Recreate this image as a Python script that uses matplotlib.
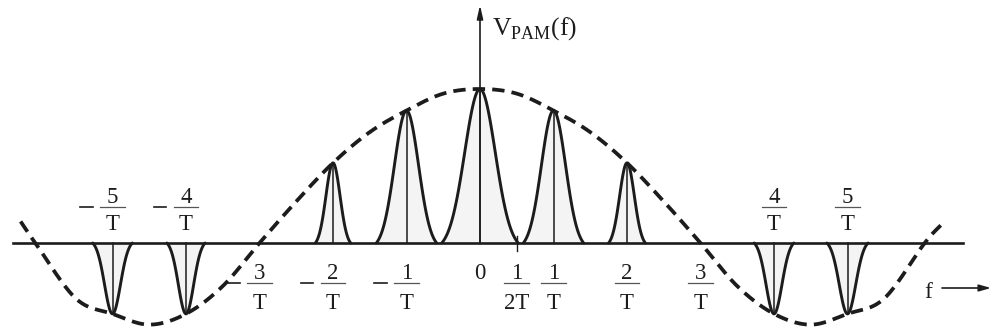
import matplotlib

matplotlib.use("Agg")
import matplotlib.pyplot as plt
import numpy as np

# dashed envelope, sampled in units of 1/T (value relative to the DC peak)
ENV_F = [-6.25, -6.05, -5.5, -5.0, -4.5, -4.0, -3.5, -3.0, -2.5, -2.0, -1.5, -1.0, -0.5,
         0.0, 0.5, 1.0, 1.5, 2.0, 2.5, 3.0, 3.5, 4.0, 4.5, 5.0, 5.5, 6.05, 6.3]
ENV_V = [0.14, 0.0, -0.36, -0.46, -0.53, -0.46, -0.28, 0.0, 0.27, 0.52, 0.72, 0.86, 0.97,
         1.0, 0.97, 0.86, 0.72, 0.52, 0.27, 0.0, -0.28, -0.46, -0.53, -0.46, -0.36, 0.0, 0.13]

# spectral lines at k/T: peak value and half-width of each bell
PULSE_K = [-5, -4, -2, -1, 0, 1, 2, 4, 5]
PULSE_H = [-0.46, -0.46, 0.52, 0.86, 1.0, 0.86, 0.52, -0.46, -0.46]
PULSE_W = [0.27, 0.26, 0.24, 0.41, 0.52, 0.41, 0.25, 0.27, 0.28]

# fraction labels: (position, numerator, denominator)
LABELS_BELOW = [(-3, "3", "T"), (-2, "2", "T"), (-1, "1", "T"),
                (0.5, "1", "2T"), (1, "1", "T"), (2, "2", "T"), (3, "3", "T")]
LABELS_ABOVE = [(-5, "5", "T"), (-4, "4", "T"), (4, "4", "T"), (5, "5", "T")]

INK = "#1c1c1c"
FONT = "Liberation Serif"
PX_X = 1 / 73.5   # data units per pixel
PX_Y = 1 / 154.0
LABEL_SIZE = 16.5


def catmull_rom(xs, ys, n=24):
    pts = np.column_stack([xs, ys]).astype(float)
    pts = np.vstack([2 * pts[0] - pts[1], pts, 2 * pts[-1] - pts[-2]])
    t = np.linspace(0, 1, n, endpoint=False)[:, None]
    seg = []
    for i in range(1, len(pts) - 2):
        p0, p1, p2, p3 = pts[i - 1:i + 3]
        seg.append(0.5 * (2 * p1 + (-p0 + p2) * t
                          + (2 * p0 - 5 * p1 + 4 * p2 - p3) * t ** 2
                          + (-p0 + 3 * p1 - 3 * p2 + p3) * t ** 3))
    seg.append(pts[-2][None])
    out = np.vstack(seg)
    return out[:, 0], out[:, 1]


def bell(k, h, w, n=120):
    u = np.linspace(-w, w, n)
    s = w / 2.5
    e0 = np.exp(-0.5 * 2.5 ** 2)
    g = (np.exp(-0.5 * (u / s) ** 2) - e0) / (1 - e0)
    return k + u, h * g


def fraction(ax, x, y_num, y_bar, y_den, num, den, neg):
    ax.text(x, y_num, num, ha="center", va="baseline", fontsize=LABEL_SIZE,
            family=FONT, color=INK)
    ax.text(x, y_den, den, ha="center", va="baseline", fontsize=LABEL_SIZE,
            family=FONT, color=INK)
    ax.plot([x - 0.17, x + 0.17], [y_bar, y_bar], color="#555555", lw=0.9)
    if neg:
        ax.plot([x - 0.44, x - 0.27], [y_bar, y_bar], color=INK, lw=1.2)


def main():
    fig = plt.figure(figsize=(9.95, 3.33), dpi=100)
    ax = fig.add_axes([0, 0, 1, 1])
    ax.set_xlim(-480 * PX_X, 515 * PX_X)
    ax.set_ylim(-90 * PX_Y, 243 * PX_Y)
    ax.axis("off")

    # baseline
    ax.plot([-467 * PX_X, 483 * PX_X], [0, 0], color=INK, lw=1.9, zorder=3)

    # vertical axis with arrow
    ax.annotate("", xy=(0, 238 * PX_Y), xytext=(0, 0),
                arrowprops=dict(arrowstyle="-|>,head_length=0.8,head_width=0.18",
                                color=INK, lw=1.2, shrinkA=0, shrinkB=0))
    ax.text(12 * PX_X, 208 * PX_Y, r"$\mathrm{V}_{\mathrm{PAM}}\mathrm{(f)}$",
            fontsize=18.5, color=INK, ha="left", va="baseline")

    # spectral bells with their centre lines
    for k, h, w in zip(PULSE_K, PULSE_H, PULSE_W):
        x, y = bell(k, h, w)
        ax.fill_between(x, 0, y, color="#f4f4f4", lw=0, zorder=1)
        ax.plot(x, y, color=INK, lw=2.1, zorder=4, solid_capstyle="round")
        ax.plot([k, k], [0, h], color=INK, lw=1.1, zorder=4)

    # dashed envelope
    ex, ey = catmull_rom(ENV_F, ENV_V)
    ax.plot(ex, ey, color=INK, lw=2.7, linestyle=(0, (3.3, 1.9)), zorder=5)

    # tick at 1/2T
    ax.plot([0.5, 0.5], [7 * PX_Y, -8 * PX_Y], color=INK, lw=1.0)

    # frequency labels
    ax.text(0, -36 * PX_Y, "0", ha="center", va="baseline", fontsize=LABEL_SIZE,
            family=FONT, color=INK)
    for pos, num, den in LABELS_BELOW:
        fraction(ax, pos, -36 * PX_Y, -40 * PX_Y, -66 * PX_Y, num, den, pos < 0)
    for pos, num, den in LABELS_ABOVE:
        fraction(ax, pos, 40 * PX_Y, 36 * PX_Y, 13 * PX_Y, num, den, pos < 0)

    # f axis arrow
    ax.text(448 * PX_X, -55 * PX_Y, "f", ha="center", va="baseline",
            fontsize=17, family=FONT, color=INK)
    ax.annotate("", xy=(511 * PX_X, -45 * PX_Y), xytext=(462 * PX_X, -45 * PX_Y),
                arrowprops=dict(arrowstyle="-|>,head_length=0.7,head_width=0.2",
                                color=INK, lw=1.2, shrinkA=0, shrinkB=0))

    fig.savefig("out.png", dpi=100, facecolor="white")
    plt.close(fig)


if __name__ == "__main__":
    plt.rcParams["mathtext.fontset"] = "custom"
    plt.rcParams["mathtext.rm"] = FONT
    main()
